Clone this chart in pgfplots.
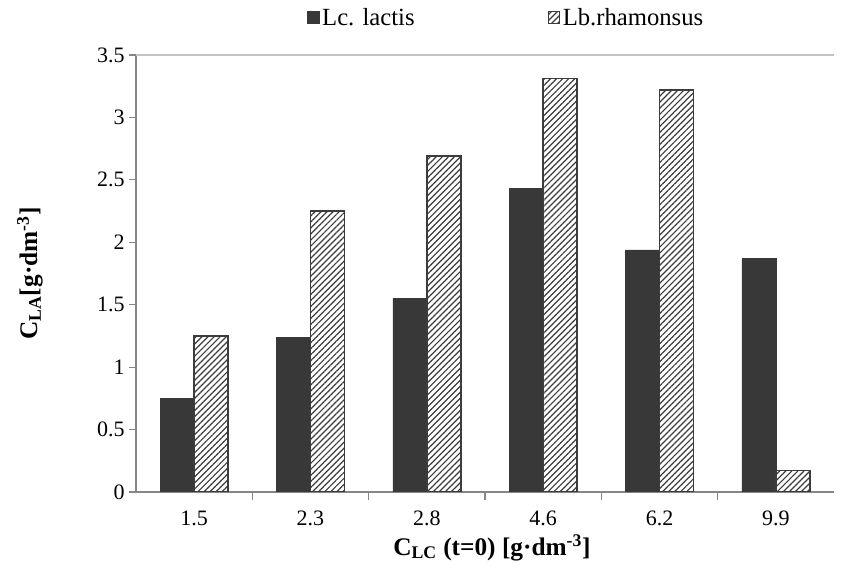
\documentclass[border=0pt]{standalone}
\usepackage{fontspec}
\setmainfont{Liberation Serif}
\usepackage{pgfplots}
\usepackage{pgfplotstable}
\pgfplotsset{compat=1.18}
\usetikzlibrary{patterns.meta,calc}
\definecolor{barDark}{RGB}{56,56,56}
\definecolor{barEdge}{RGB}{60,60,60}
\definecolor{axisGray}{RGB}{134,134,134}
\definecolor{topGray}{RGB}{195,195,195}

\pgfplotstableread{
x conc lactis rham
0 1.5 0.75 1.25
1 2.3 1.24 2.25
2 2.8 1.55 2.69
3 4.6 2.43 3.31
4 6.2 1.94 3.22
5 9.9 1.87 0.17
}\datatable

\begin{document}
\begin{tikzpicture}
\begin{axis}[
  name=ax,
  scale only axis,
  width=523.5pt, height=327.75pt,
  ybar=0pt, bar width=25.5pt,
  xmin=-0.5, xmax=5.5, ymin=0, ymax=3.5,
  xtick={0,1,2,3,4,5},
  xticklabels from table={\datatable}{conc},
  minor xtick={0.5,1.5,2.5,3.5,4.5},
  ytick={0,0.5,1,1.5,2,2.5,3,3.5},
  yticklabels={0,0.5,1,1.5,2,2.5,3,3.5},
  axis x line*=bottom, axis y line*=left,
  axis line style={axisGray, line width=0.8pt, -},
  tick align=outside,
  tick style={axisGray, line width=0.8pt},
  major x tick style={draw=none},
  minor tick length=6pt,
  major tick length=5pt,
  tick label style={font=\fontsize{16.5}{18}\selectfont},
  /pgf/number format/assume math mode=true,
  xticklabel style={yshift=-6pt},
  xlabel={\textbf{C\textsubscript{LC} (t=0) [g·dm\textsuperscript{-3}]}},
  ylabel={\textbf{C\textsubscript{LA}[g·dm\textsuperscript{-3}]}},
  label style={font=\fontsize{19}{21}\selectfont},
  xlabel style={at={(axis description cs:0.51,-0.128)}, anchor=center},
  ylabel style={at={(axis description cs:-0.152,0.5)}, anchor=center},
  legend style={at={(0.531,1.085)}, anchor=center, draw=none,
    font=\fontsize{18.5}{20}\selectfont, legend columns=2,
    /tikz/every even column/.append style={column sep=98pt}},
  legend image code/.code={\draw[#1, line width=0.6pt] (0pt,-4.5pt) rectangle (8.5pt,4.5pt);},
]
\addplot[fill=barDark, draw=barDark] table[x=x, y=lactis]{\datatable};
\addplot[pattern={Lines[angle=45,distance=3.2pt,line width=0.9pt]}, pattern color=barEdge,
  draw=barEdge, line width=1.1pt] table[x=x, y=rham]{\datatable};
\legend{Lc. lactis, Lb.rhamonsus}
\draw[topGray, line width=0.8pt] (rel axis cs:0,1) -- (rel axis cs:1,1);
\end{axis}
\pgfresetboundingbox
\path ($(ax.south west)+(-102pt,-62.25pt)$) rectangle ($(ax.north east)+(8.25pt,41.25pt)$);
\end{tikzpicture}
\end{document}
